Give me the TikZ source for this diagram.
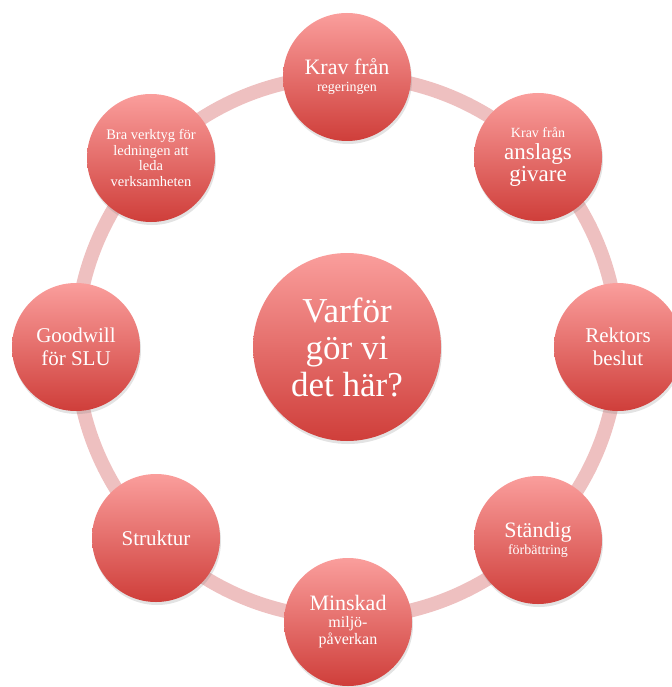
\documentclass[tikz,border=0pt]{standalone}
\usepackage{fontspec}
\setmainfont{Liberation Serif}
\usetikzlibrary{shadows}
\definecolor{ctop}{RGB}{250,158,156}
\definecolor{cbot}{RGB}{207,62,58}
\definecolor{ringc}{RGB}{238,192,192}
\newcommand{\fs}[2]{\fontsize{#1}{#2}\selectfont}
\tikzset{
  bub/.style={circle, minimum size=128pt, inner sep=0pt, top color=ctop, bottom color=cbot,
    text=white, align=center,
    drop shadow={shadow xshift=1pt, shadow yshift=-3pt, opacity=0.22}},
  big/.style={bub, minimum size=188pt},
  ring/.style={draw=ringc, line width=14pt}
}
\begin{document}
\begin{tikzpicture}[x=1pt,y=-1pt]
\useasboundingbox (0,0) rectangle (671,687);
\coordinate (c) at (347,347);
\draw[ring] (c) circle[radius=271];
\node[big, font=\fs{35}{37}] (mid) at (347,347) {Varför\\gör vi\\det här?};
\node[bub, font=\fs{14}{17}] (n1) at (347,77) {\fs{22}{22}Krav från\\ \fs{14}{16}regeringen};
\node[bub, font=\fs{21}{22}] (n2) at (538,157) {\fs{14}{16}Krav från\\ \fs{23}{24}anslags\\ \fs{23}{24}givare};
\node[bub, font=\fs{21}{23}] (n3) at (618,347) {Rektors\\beslut};
\node[bub, font=\fs{14}{17}] (n4) at (538,540) {\fs{22}{22}Ständig\\ \fs{14}{16}förbättring};
\node[bub, font=\fs{16}{17}] (n5) at (348,622) {\fs{22}{22}Minskad\\ \fs{16}{16}miljö-\\ \fs{16}{16}påverkan};
\node[bub, font=\fs{21}{22}] (n6) at (156,538) {Struktur};
\node[bub, font=\fs{21}{23}] (n7) at (76,347) {Goodwill\\för SLU};
\node[bub, font=\fs{14.5}{15.5}] (n8) at (151,158) {Bra verktyg för\\ledningen att\\leda\\verksamheten};
\end{tikzpicture}
\end{document}
